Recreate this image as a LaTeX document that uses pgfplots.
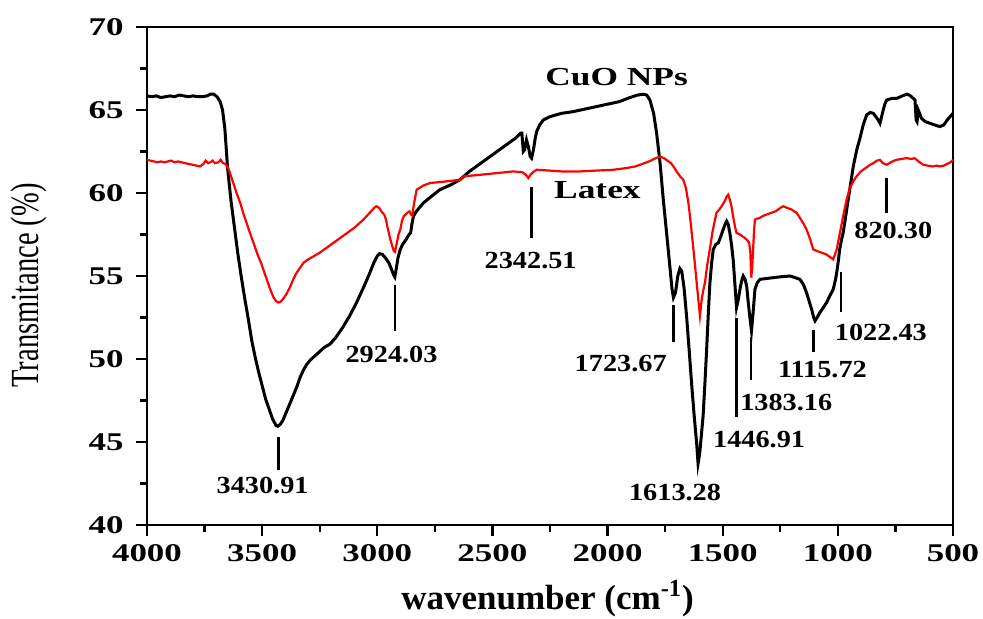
\documentclass[border=0pt]{standalone}
\usepackage{fontspec}
\usepackage{graphicx}
\setmainfont{Liberation Serif}
\newfontfamily\tickfont{Liberation Serif}[FakeStretch=1.37]
\newfontfamily\annfont{Liberation Serif}[FakeStretch=1.15]
\newfontfamily\samplefont{Liberation Serif}[FakeStretch=1.36]
\usepackage{pgfplots}
\usepackage{pgfplotstable}
\pgfplotsset{compat=1.18}

\pgfplotstableread{
x y
4000 65.85
3980 65.8
3960 65.85
3940 65.75
3920 65.8
3900 65.85
3880 65.8
3860 65.9
3840 65.85
3820 65.8
3800 65.85
3780 65.8
3760 65.8
3740 65.85
3725 65.95
3710 65.95
3696 65.8
3682 65.5
3672 65.0
3662 63.9
3650 61.5
3635 59.5
3620 57.9
3605 56.3
3590 54.9
3575 53.6
3560 52.4
3545 51.1
3530 50.1
3515 49.2
3500 48.4
3485 47.6
3470 47.0
3455 46.4
3440 46.0
3432 45.95
3422 46.05
3410 46.3
3395 46.8
3380 47.3
3365 47.8
3350 48.3
3335 48.9
3320 49.35
3305 49.7
3290 49.95
3270 50.2
3250 50.45
3230 50.7
3205 50.9
3180 51.3
3150 51.9
3120 52.6
3090 53.4
3060 54.3
3035 55.1
3015 55.8
3000 56.2
2990 56.35
2978 56.3
2965 56.1
2950 55.8
2938 55.4
2930 55.1
2924 54.95
2918 55.4
2910 56.1
2900 56.6
2890 56.9
2875 57.2
2862 57.5
2855 57.6
2850 58.1
2843 58.6
2830 58.9
2800 59.4
2760 59.85
2728 60.2
2680 60.5
2641 60.8
2600 61.3
2550 61.8
2500 62.3
2450 62.8
2400 63.3
2378 63.6
2372 63.6
2366 62.5
2360 62.6
2352 63.2
2344 62.8
2336 62.2
2330 62.1
2322 62.6
2314 63.3
2308 63.7
2295 64.1
2279 64.4
2250 64.6
2200 64.8
2150 64.9
2100 65.05
2050 65.2
2000 65.35
1950 65.5
1903 65.75
1870 65.9
1845 65.95
1830 65.9
1816 65.6
1800 64.8
1787 63.6
1772 61.8
1758 59.6
1743 57.5
1729 55.5
1720 54.2
1714 53.7
1705 54.0
1695 55.0
1686 55.45
1678 55.3
1668 54.3
1657 52.6
1646 50.6
1635 48.5
1624 46.6
1613 44.9
1607 43.7
1600 44.3
1592 45.5
1585 46.6
1577 48.6
1570 50.5
1563 52.6
1556 54.5
1548 55.8
1541 56.6
1530 56.9
1519 57.0
1508 57.4
1498 57.8
1490 58.1
1483 58.3
1476 58.1
1469 57.6
1461 56.8
1454 55.9
1447 54.5
1440 53.1
1432 53.6
1425 54.2
1418 54.7
1411 55.0
1403 54.8
1396 54.4
1389 53.4
1382 52.5
1375 51.7
1368 52.8
1360 54.2
1350 54.6
1338 54.8
1310 54.85
1281 54.9
1250 54.95
1208 55.0
1185 54.9
1165 54.8
1150 54.5
1136 54.0
1125 53.5
1114 53.0
1105 52.5
1099 52.3
1090 52.5
1078 52.8
1063 53.1
1049 53.4
1035 53.8
1020 54.2
1010 54.8
1005 55.2
998 55.9
992 56.6
984 57.2
977 57.6
966 58.6
955 59.6
944 60.6
933 61.6
918 62.6
904 63.3
890 64.1
875 64.7
860 64.85
846 64.8
835 64.6
825 64.4
817 64.2
810 64.6
803 65.0
795 65.4
788 65.6
765 65.7
744 65.7
720 65.85
701 65.95
690 65.9
680 65.8
665 65.6
660 64.4
656 64.3
651 65.0
645 64.8
637 64.5
620 64.3
600 64.2
580 64.1
557 64.0
540 64.1
525 64.4
506 64.7
500 64.8
}\cuo

\pgfplotstableread{
x y
4000 62.0
3985 61.95
3970 61.9
3955 61.85
3940 61.9
3925 61.85
3910 61.9
3895 61.95
3880 61.85
3865 61.9
3850 61.85
3835 61.8
3820 61.75
3800 61.7
3785 61.65
3770 61.6
3755 61.75
3745 61.95
3735 61.8
3725 61.85
3715 61.95
3705 61.8
3690 61.85
3680 62.0
3670 61.8
3660 61.75
3647 61.5
3630 60.8
3611 60.0
3595 59.4
3580 58.7
3565 58.1
3553 57.6
3535 56.9
3520 56.3
3505 55.8
3495 55.4
3480 54.8
3465 54.2
3450 53.7
3440 53.5
3430 53.4
3420 53.45
3410 53.6
3395 53.9
3380 54.3
3365 54.8
3350 55.2
3335 55.5
3320 55.8
3300 56.0
3275 56.2
3250 56.4
3200 56.9
3150 57.4
3100 57.9
3060 58.4
3030 58.85
3010 59.15
3003 59.2
2992 59.1
2980 58.85
2970 58.7
2962 58.4
2955 57.9
2945 57.3
2935 56.8
2928 56.5
2923 56.45
2915 57.0
2908 57.5
2900 57.8
2893 58.3
2885 58.6
2870 58.8
2860 58.9
2853 58.7
2848 58.65
2840 59.4
2829 60.2
2800 60.45
2771 60.6
2700 60.7
2641 60.8
2627 61.0
2550 61.1
2480 61.2
2410 61.3
2370 61.25
2355 61.1
2344 60.9
2335 61.1
2320 61.3
2308 61.4
2250 61.35
2200 61.3
2120 61.3
2050 61.35
1975 61.4
1920 61.5
1880 61.6
1859 61.7
1820 61.9
1790 62.1
1773 62.2
1755 62.1
1740 61.95
1725 61.8
1714 61.6
1700 61.3
1685 61.0
1671 60.8
1660 60.3
1650 59.5
1642 58.6
1630 57.0
1620 55.6
1613 54.6
1606 53.6
1599 52.6
1592 53.5
1585 54.1
1577 54.6
1568 55.6
1556 56.6
1545 57.6
1535 58.3
1527 58.8
1515 59.0
1505 59.2
1498 59.35
1488 59.6
1482 59.8
1476 59.9
1469 59.6
1462 59.2
1455 58.6
1447 58.0
1440 57.6
1425 57.5
1410 57.35
1396 57.2
1385 57.0
1380 56.4
1376 54.9
1372 55.5
1368 56.6
1364 57.7
1360 58.4
1340 58.5
1320 58.65
1309 58.7
1290 58.8
1270 58.9
1250 59.1
1237 59.2
1220 59.1
1200 59.0
1179 58.8
1160 58.4
1147 58.1
1136 57.8
1120 57.2
1107 56.6
1090 56.5
1070 56.4
1050 56.3
1035 56.15
1020 56.0
1005 56.6
991 57.6
977 58.6
962 59.6
948 60.3
933 60.7
919 61.0
900 61.3
880 61.5
860 61.7
846 61.8
830 61.95
817 62.0
805 61.8
788 61.7
770 61.85
755 61.95
744 62.0
725 62.05
701 62.1
680 62.05
667 62.1
658 62.0
645 61.85
629 61.7
610 61.65
590 61.6
570 61.65
557 61.6
540 61.65
525 61.75
506 61.9
500 62.0
}\latex

\begin{document}
\begin{tikzpicture}
\begin{axis}[
  scale only axis, width=403bp, height=249bp,
  x dir=reverse, xmin=500, xmax=4000, ymin=40, ymax=70,
  xtick={500,1000,...,4000}, ytick={40,45,...,70},
  minor x tick num=1, minor y tick num=1,
  tick align=outside, xtick pos=left, ytick pos=left,
  major tick length=5.5bp, minor tick length=3.5bp,
  every tick/.append style={black, line width=1.2bp},
  axis line style={line width=1.2bp},
  /pgf/number format/.cd, 1000 sep={}, assume math mode=true, /pgfplots/.cd,
  tick label style={font=\tickfont\bfseries\fontsize{12.75bp}{14bp}\selectfont, inner sep=0pt},
  xticklabel style={yshift=-4bp},
  yticklabel style={xshift=-6bp},
  xlabel={\bfseries wavenumber (cm\textsuperscript{-1})},
  xlabel style={font=\fontsize{17.5bp}{20bp}\selectfont, at={(axis description cs:0.497,0)}, anchor=base, yshift=-42bp},
  ylabel={\scalebox{1}[1.4]{Transmitance (\%)}},
  ylabel style={font=\fontsize{14.25bp}{16bp}\selectfont, at={(axis description cs:-0.1464,0.481)}, anchor=center},
  clip=false,
]
\addplot[black, line width=1.5bp] table[x=x, y=y] {\cuo};
\addplot[red, line width=1.1bp] table[x=x, y=y] {\latex};

% annotation lines
\addplot[black, line width=1.4bp, forget plot] coordinates {(3430,45.3) (3430,43.3)};
\addplot[black, line width=1.4bp, forget plot] coordinates {(2923,54.45) (2923,51.7)};
\addplot[black, line width=1.4bp, forget plot] coordinates {(2330,60.38) (2330,57.27)};
\addplot[black, line width=1.4bp, forget plot] coordinates {(1714,53.25) (1714,51.04)};
\addplot[black, line width=1.4bp, forget plot] coordinates {(1440,52.45) (1440,46.5)};
\addplot[black, line width=1.4bp, forget plot] coordinates {(1377,51.3) (1377,48.75)};
\addplot[black, line width=1.4bp, forget plot] coordinates {(1107,51.75) (1107,50.44)};
\addplot[black, line width=1.4bp, forget plot] coordinates {(986,55.26) (986,52.85)};
\addplot[black, line width=1.4bp, forget plot] coordinates {(788,60.88) (788,58.78)};

\tikzset{ann/.style={font=\annfont\bfseries\fontsize{12.3bp}{14bp}\selectfont, inner sep=0pt, anchor=center}}
\node[ann] at (axis cs:3498,42.4) {3430.91};
\node[ann] at (axis cs:2938,50.3) {2924.03};
\node[ann] at (axis cs:2334,55.96) {2342.51};
\node[ann] at (axis cs:1943,49.74) {1723.67};
\node[ann] at (axis cs:1707,41.95) {1613.28};
\node[ann] at (axis cs:1342,45.16) {1446.91};
\node[ann] at (axis cs:1224,47.37) {1383.16};
\node[ann] at (axis cs:1067,49.38) {1115.72};
\node[ann] at (axis cs:813,51.6) {1022.43};
\node[ann] at (axis cs:759,57.77) {820.30};
\node[font=\samplefont\bfseries\fontsize{13bp}{15bp}\selectfont, inner sep=0pt, anchor=base] at (axis cs:1961,66.5) {CuO NPs};
\node[font=\samplefont\bfseries\fontsize{13bp}{15bp}\selectfont, inner sep=0pt, anchor=base] at (axis cs:2044,59.68) {Latex};
\end{axis}
\pgfresetboundingbox
\useasboundingbox (-73.5bp,-47bp) rectangle (418bp,262.5bp);
\end{tikzpicture}
\end{document}
